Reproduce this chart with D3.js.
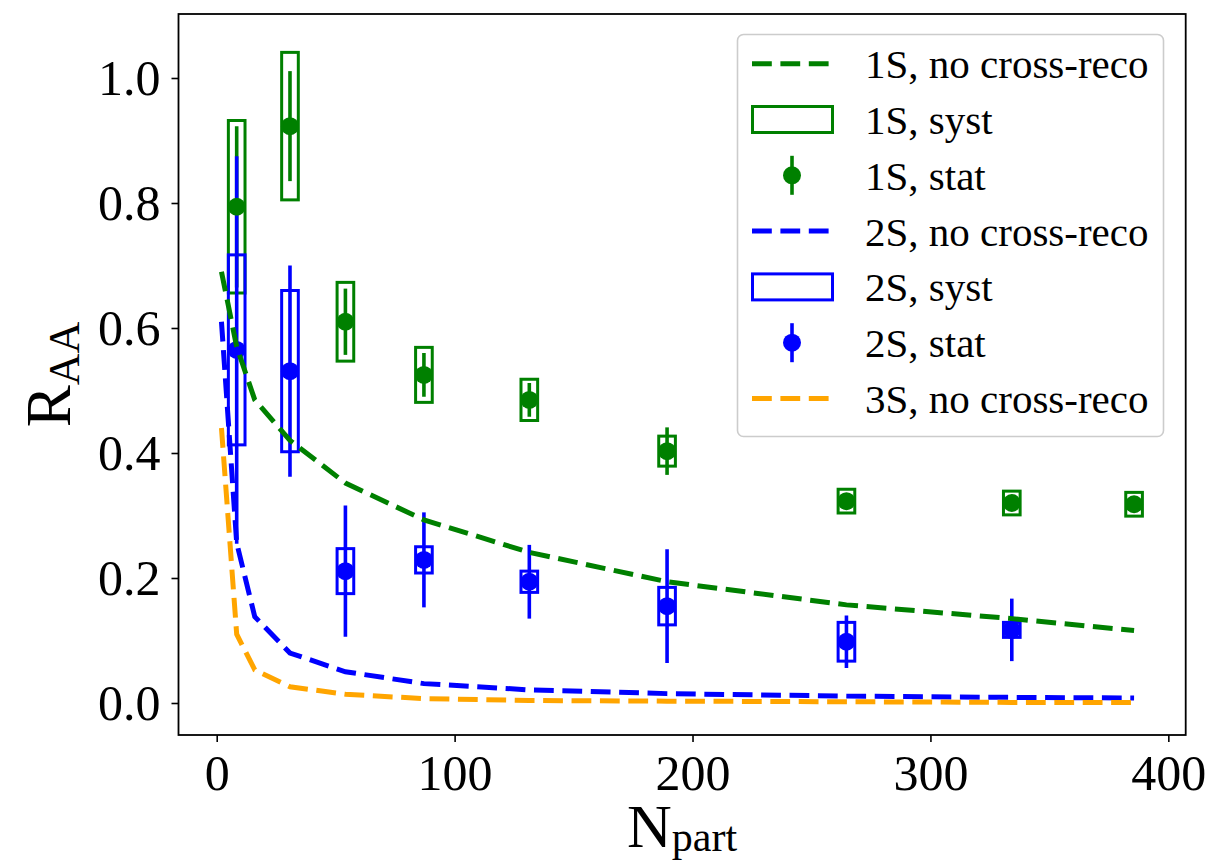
<!DOCTYPE html>
<html>
<head>
<meta charset="utf-8">
<script src="https://cdn.jsdelivr.net/npm/d3@7"></script>
<style>
  body { margin: 0; background: #fff; }
  svg text { font-family: "Liberation Serif", "DejaVu Serif", serif; fill: #000; }
</style>
</head>
<body>
<div id="chart"></div>
<script>
// 1S data points
var nPart1 = [8.4, 30.8, 54.1, 87.1, 131.4, 189.3, 264.7, 334.2, 385.6];
var raa1   = [0.794, 0.923, 0.610, 0.525, 0.485, 0.403, 0.323, 0.320, 0.318];
var stat1  = [0.129, 0.088, 0.053, 0.035, 0.027, 0.038, 0.012, 0.011, 0.011];
var syst1  = [0.138, 0.118, 0.063, 0.044, 0.033, 0.024, 0.019, 0.019, 0.019];

// 2S data points
var nPart2 = [8.4, 30.8, 54.1, 87.1, 131.4, 189.3, 264.7, 334.2];
var raa2   = [0.565, 0.531, 0.211, 0.229, 0.194, 0.155, 0.098, 0.117];
var stat2  = [0.31, 0.169, 0.105, 0.076, 0.059, 0.091, 0.042, 0.050];
var syst2  = [0.152, 0.129, 0.036, 0.021, 0.017, 0.030, 0.031, 0.012];

// "no cross-reco" curves
var curveN  = [2, 8.4, 16, 30.8, 54.1, 87.1, 131.4, 189.3, 264.7, 334.2, 385.6];
var curve1S = [0.69, 0.57, 0.485, 0.42, 0.352, 0.293, 0.241, 0.194, 0.157, 0.135, 0.116];
var curve2S = [0.61, 0.256, 0.138, 0.08, 0.05, 0.031, 0.021, 0.015, 0.011, 0.009, 0.008];
var curve3S = [0.44, 0.11, 0.053, 0.026, 0.014, 0.007, 0.004, 0.003, 0.002, 0.001, 0.001];

var xTicks = [0, 100, 200, 300, 400];
var yTicks = [0.0, 0.2, 0.4, 0.6, 0.8, 1.0];

var legendLabels = ["1S, no cross-reco", "1S, syst", "1S, stat",
                    "2S, no cross-reco", "2S, syst", "2S, stat", "3S, no cross-reco"];

var green = "#008000", blue = "#0000ff", orange = "#ffa500";

var W = 1230, H = 861;
var margin = {top: 14, right: 44.3, bottom: 126, left: 178.5},
    width = W - margin.left - margin.right,
    height = H - margin.top - margin.bottom;

var svg = d3.select("#chart").append("svg")
    .attr("width", W)
    .attr("height", H);

var g = svg.append("g")
    .attr("transform", "translate(" + margin.left + "," + margin.top + ")");

var x = d3.scaleLinear().domain([-16.06, 407.3]).range([0, width]);
var y = d3.scaleLinear().domain([-0.0512, 1.1024]).range([height, 0]);

var halfW = 3.5; // half width of syst boxes, in N_part units

function points(n, r, st, sy) {
  return n.map(function(d, i) { return {n: d, r: r[i], stat: st[i], syst: sy[i]}; });
}
var pts1 = points(nPart1, raa1, stat1, syst1);
var pts2 = points(nPart2, raa2, stat2, syst2);

// syst boxes
[[pts1, green], [pts2, blue]].forEach(function(s) {
  g.selectAll(null).data(s[0]).enter().append("rect")
    .attr("x", function(d) { return x(d.n - halfW); })
    .attr("width", function(d) { return x(d.n + halfW) - x(d.n - halfW); })
    .attr("y", function(d) { return y(d.r + d.syst); })
    .attr("height", function(d) { return y(d.r - d.syst) - y(d.r + d.syst); })
    .attr("fill", "none")
    .attr("stroke", s[1])
    .attr("stroke-width", 3);
});

// stat bars
[[pts1, green], [pts2, blue]].forEach(function(s) {
  g.selectAll(null).data(s[0]).enter().append("line")
    .attr("x1", function(d) { return x(d.n); })
    .attr("x2", function(d) { return x(d.n); })
    .attr("y1", function(d) { return y(d.r + d.stat); })
    .attr("y2", function(d) { return y(d.r - d.stat); })
    .attr("stroke", s[1])
    .attr("stroke-width", 3.6);
});

// markers
[[pts1, green], [pts2, blue]].forEach(function(s) {
  g.selectAll(null).data(s[0]).enter().append("circle")
    .attr("cx", function(d) { return x(d.n); })
    .attr("cy", function(d) { return y(d.r); })
    .attr("r", 9)
    .attr("fill", s[1]);
});

// dashed curves
var line = d3.line()
    .x(function(d) { return x(d[0]); })
    .y(function(d) { return y(d[1]); });

[[curve1S, green], [curve2S, blue], [curve3S, orange]].forEach(function(c) {
  g.append("path")
    .datum(curveN.map(function(n, i) { return [n, c[0][i]]; }))
    .attr("d", line)
    .attr("fill", "none")
    .attr("stroke", c[1])
    .attr("stroke-width", 5)
    .attr("stroke-dasharray", "19.8,8.6");
});

// axes
var xAxis = g.append("g")
    .attr("transform", "translate(0," + height + ")")
    .call(d3.axisBottom(x).tickValues(xTicks).tickSize(7).tickPadding(12)
      .tickFormat(d3.format("d")));
var yAxis = g.append("g")
    .call(d3.axisLeft(y).tickValues(yTicks).tickSize(7).tickPadding(11)
      .tickFormat(d3.format(".1f")));

[xAxis, yAxis].forEach(function(a) {
  a.select(".domain").remove();
  a.selectAll(".tick line").attr("stroke", "#000").attr("stroke-width", 1.6);
  a.selectAll(".tick text")
    .style("font-family", "'Liberation Serif', serif")
    .style("font-size", "50px")
    .attr("fill", "#000");
});

// frame
g.append("rect")
  .attr("width", width)
  .attr("height", height)
  .attr("fill", "none")
  .attr("stroke", "#000")
  .attr("stroke-width", 1.8);

// axis labels
var xl = svg.append("text")
  .attr("x", margin.left + width / 2)
  .attr("y", 847)
  .attr("text-anchor", "middle")
  .style("font-size", "62px");
xl.append("tspan").text("N");
xl.append("tspan").attr("dy", 4).style("font-size", "42px").text("part");

var yl = svg.append("text")
  .attr("transform", "translate(70," + (margin.top + height / 2) + ") rotate(-90)")
  .attr("text-anchor", "middle")
  .style("font-size", "63px");
yl.append("tspan").text("R");
yl.append("tspan").attr("dy", 9).style("font-size", "44px").text("AA");

// legend
var leg = svg.append("g");
leg.append("rect")
  .attr("x", 737.5).attr("y", 34.5)
  .attr("width", 426).attr("height", 402)
  .attr("rx", 6).attr("ry", 6)
  .attr("fill", "#fff").attr("fill-opacity", 0.8)
  .attr("stroke", "#cccccc").attr("stroke-width", 1.6);

var rowY0 = 63.7, rowStep = 55.8;
var handles = [
  {type: "line", color: green}, {type: "box", color: green}, {type: "stat", color: green},
  {type: "line", color: blue}, {type: "box", color: blue}, {type: "stat", color: blue},
  {type: "line", color: orange}
];
handles.forEach(function(h, i) {
  var cy = rowY0 + i * rowStep;
  if (h.type === "line") {
    leg.append("line")
      .attr("x1", 752).attr("x2", 829).attr("y1", cy).attr("y2", cy)
      .attr("stroke", h.color).attr("stroke-width", 5)
      .attr("stroke-dasharray", "19.8,8.6");
  } else if (h.type === "box") {
    leg.append("rect")
      .attr("x", 752.5).attr("y", cy - 13).attr("width", 80).attr("height", 26)
      .attr("fill", "none").attr("stroke", h.color).attr("stroke-width", 3);
  } else {
    leg.append("line")
      .attr("x1", 792).attr("x2", 792).attr("y1", cy - 19.5).attr("y2", cy + 19.5)
      .attr("stroke", h.color).attr("stroke-width", 3.6);
    leg.append("circle")
      .attr("cx", 792).attr("cy", cy).attr("r", 9).attr("fill", h.color);
  }
  leg.append("text")
    .attr("x", 865).attr("y", cy + 14.5)
    .style("font-size", "41px")
    .text(legendLabels[i]);
});
</script>
</body>
</html>
